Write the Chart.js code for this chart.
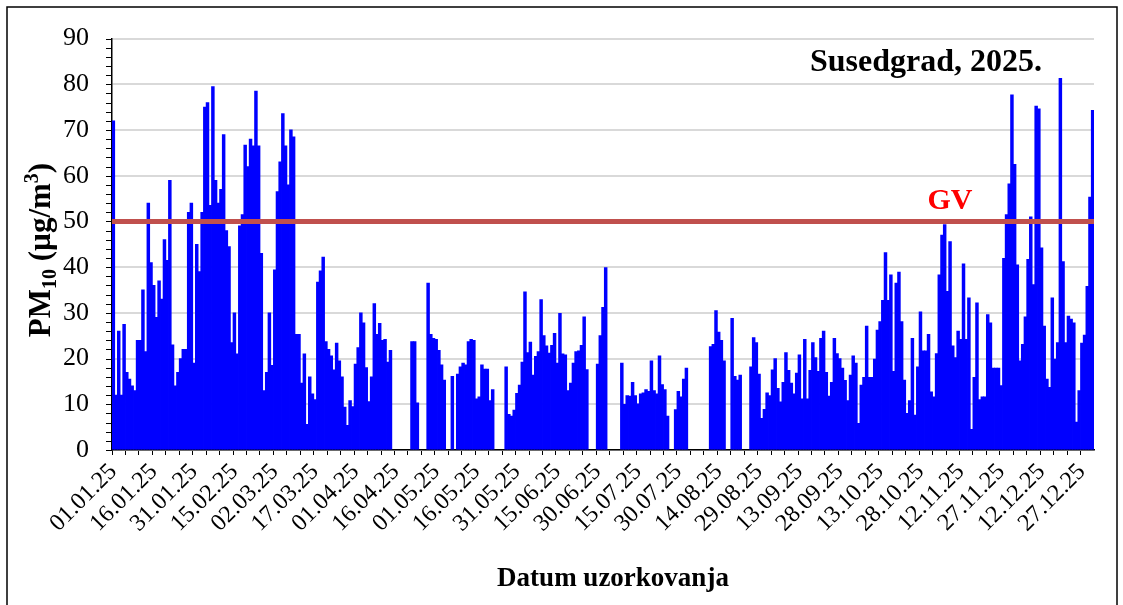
<!DOCTYPE html>
<html>
<head>
<meta charset="utf-8">
<title>PM10 Susedgrad 2025.</title>
<script src="https://cdn.jsdelivr.net/npm/chart.js@4.4.1/dist/chart.umd.min.js"></script>
<style>
    html, body { margin: 0; padding: 0; background: #fff; }
    #wrap { position: relative; width: 1123px; height: 605px; }
</style>
</head>
<body>
<div id="wrap"><canvas id="pm10Chart" width="1123" height="605"></canvas></div>
<script>
// Dnevne vrijednosti PM10 (µg/m3) po mjesecima, null = nema uzorka
const sijecanj = [72, 12, 26, 12, 27.5, 17, 15.5, 14, 13, 24, 24, 35, 21.5, 54, 41, 36, 29, 37, 33, 46,
    41.5, 59, 23, 14, 17, 20, 22, 22, 52, 54, 19];
const veljaca = [45, 39, 52, 75, 76, 53.5, 79.5, 59, 54, 57, 69, 48, 44.5, 23.5, 30, 21, 49, 51.5, 66.7, 62,
    68, 66.5, 78.5, 66.5, 43, 13, 17, 30];
const ozujak = [18.5, 39.4, 56.5, 63, 73.6, 66.5, 58, 70, 68.5, 25.3, 25.3, 14.6, 21, 5.6, 16, 12.3, 11, 36.7, 39.2, 42.2,
    23.7, 22, 20.6, 17.5, 23.4, 19.5, 16, 9.4, 5.4, 10.8, 9.5];
const travanj = [18.8, 22.4, 30, 27.8, 18, 10.6, 16, 32, 25.3, 27.7, 24, 24.2, 19.2, 21.8, null, null, null, null, null, null,
    null, 23.7, 23.7, 10.3, null, null, null, 36.5, 25.3, 24.4];
const svibanj = [24.2, 21.8, 18.6, 15.3, null, null, 16.1, null, 16.6, 18.2, 19, 18.6, 23.7, 24.2, 24, 11.2, 11.6, 18.6, 17.7, 17.7,
    10.8, 13.2, null, null, null, null, 18.2, 7.8, 7.4, 8.7, 12.4];
const lipanj = [14.2, 19.2, 34.6, 21.3, 23.6, 16.4, 20.5, 21.5, 32.9, 25, 22.8, 21.2, 22.9, 25.5, 19, 29.9, 21, 20.8, 13, 14.6,
    19, 21.5, 21.7, 22.9, 29.1, 17.6, null, null, null, 18.8];
const srpanj = [25, 31.2, 39.9, null, null, null, null, null, 19, 10, 11.9, 11.8, 14.8, 11.9, 10.1, 12.3, 12.5, 13.2, 12.8, 19.5,
    13, 12.3, 20.6, 14.3, 13.2, 7.4, null, null, 8.8, 12.8, 11.6];
const kolovoz = [15.5, 17.9, null, null, null, null, null, null, null, null, 22.6, 23.1, 30.5, 25.8, 24, 19.5, null, null, 28.8, 16.1,
    15.3, 16.4, null, null, null, 18.2, 24.6, 23.5, 16.6, 6.9, 8.9];
const rujan = [12.5, 11.9, 17.5, 20, 13.5, 10.5, 14.8, 21.3, 17.4, 14.6, 12.3, 16.8, 20.8, 11.2, 24.2, 11.2, 17.4, 23.5, 20.2, 17.2,
    24.4, 26, 17, 11.8, 14.8, 24.4, 21.1, 20, 17.9, 15.2];
const listopad = [10.8, 16.4, 20.6, 19, 5.8, 14.2, 15.9, 27.1, 15.9, 15.9, 19.9, 26.2, 28.1, 32.7, 43.2, 32.7, 38.3, 17.2, 36.5, 38.9,
    28.1, 15.3, 8, 10.8, 24.4, 7.6, 18.2, 30.2, 21.7, 21.7, 25.3];
const studeni = [12.7, 11.6, 21.1, 38.3, 47, 49.3, 34.7, 45.6, 22.8, 20.2, 26, 24.2, 40.7, 24.2, 33.3, 4.5, 15.9, 32.2, 11, 11.6,
    11.6, 29.6, 27.8, 17.9, 17.9, 17.9, 14.1, 41.9, 51.5, 58.2];
const prosinac = [77.7, 62.5, 40.5, 19.5, 23.1, 29.1, 41.7, 51, 36.2, 75.2, 74.6, 44.2, 27.1, 15.5, 13.7, 33.3, 19.9, 23.5, 81.3, 41.2,
    23.5, 29.3, 28.6, 27.8, 6.1, 13, 23.4, 25.1, 35.8, 55.3, 74.3];

// Oznake na osi x (svakih 15 dana)
const xOznake = ['01.01.25', '16.01.25', '31.01.25', '15.02.25', '02.03.25', '17.03.25', '01.04.25', '16.04.25',
    '01.05.25', '16.05.25', '31.05.25', '15.06.25', '30.06.25', '15.07.25', '30.07.25', '14.08.25', '29.08.25',
    '13.09.25', '28.09.25', '13.10.25', '28.10.25', '12.11.25', '27.11.25', '12.12.25', '27.12.25'];
const yOznake = [0, 10, 20, 30, 40, 50, 60, 70, 80, 90];
const granicnaVrijednost = 50;

const pm10 = [].concat(sijecanj, veljaca, ozujak, travanj, svibanj, lipanj,
    srpanj, kolovoz, rujan, listopad, studeni, prosinac);

// Datumi uzorkovanja (kategorije)
const datumi = [];
for (let d = new Date(2025, 0, 1); d.getFullYear() === 2025; d.setDate(d.getDate() + 1)) {
    const dd = String(d.getDate()).padStart(2, '0');
    const mm = String(d.getMonth() + 1).padStart(2, '0');
    datumi.push(dd + '.' + mm + '.25');
}

const serif = "'Liberation Serif', 'Times New Roman', 'DejaVu Serif', serif";

// Okvir, GV linija, naslovi i sitne crtice na osi y
const dodaci = {
    id: 'dodaci',
    afterDatasetsDraw(chart) {
        const { ctx, chartArea, scales } = chart;
        const yGV = scales.y.getPixelForValue(granicnaVrijednost);
        ctx.save();
        ctx.strokeStyle = '#c0504d';
        ctx.lineWidth = 5;
        ctx.beginPath();
        ctx.moveTo(chartArea.left, yGV);
        ctx.lineTo(chartArea.right, yGV);
        ctx.stroke();
        ctx.restore();
    },
    afterDraw(chart) {
        const { ctx, chartArea, scales } = chart;
        ctx.save();

        // okvir slike
        ctx.strokeStyle = '#000';
        ctx.lineWidth = 1.5;
        ctx.strokeRect(7, 7, 1110, 640);

        // crtice na osi y svake 2 jedinice
        ctx.lineWidth = 1;
        ctx.beginPath();
        for (let v = 0; v <= 90; v += 2) {
            const y = Math.round(scales.y.getPixelForValue(v)) + 0.5;
            ctx.moveTo(chartArea.left - 6, y);
            ctx.lineTo(chartArea.left, y);
        }
        ctx.stroke();

        // GV
        ctx.fillStyle = '#ff0000';
        ctx.font = 'bold 30px ' + serif;
        ctx.textAlign = 'center';
        ctx.textBaseline = 'alphabetic';
        ctx.fillText('GV', 950, scales.y.getPixelForValue(granicnaVrijednost) - 12);

        // naslov
        ctx.fillStyle = '#000';
        ctx.font = 'bold 32px ' + serif;
        ctx.fillText('Susedgrad, 2025.', 926, 71);

        // naslov osi x
        ctx.font = 'bold 27px ' + serif;
        ctx.fillText('Datum uzorkovanja', 613, 586);

        // naslov osi y: PM10 (µg/m3) s indeksima
        const dijelovi = [
            { t: 'PM', f: 'bold 31px ' + serif, dy: 0 },
            { t: '10', f: 'bold 20px ' + serif, dy: 6 },
            { t: ' (µg/m', f: 'bold 31px ' + serif, dy: 0 },
            { t: '3', f: 'bold 20px ' + serif, dy: -12 },
            { t: ')', f: 'bold 31px ' + serif, dy: 0 }
        ];
        let ukupno = 0;
        dijelovi.forEach(p => { ctx.font = p.f; p.w = ctx.measureText(p.t).width; ukupno += p.w; });
        ctx.translate(50, 250);
        ctx.rotate(-Math.PI / 2);
        ctx.textAlign = 'left';
        let x = -ukupno / 2;
        dijelovi.forEach(p => {
            ctx.font = p.f;
            ctx.fillText(p.t, x, p.dy);
            x += p.w;
        });
        ctx.restore();
    }
};

const ctx = document.getElementById('pm10Chart');
new Chart(ctx, {
    type: 'bar',
    data: {
        labels: datumi,
        datasets: [{
            label: 'PM10',
            data: pm10,
            backgroundColor: '#0000ff',
            borderWidth: 0,
            barPercentage: 1,
            categoryPercentage: 1,
            inflateAmount: 0.4
        }]
    },
    options: {
        responsive: false,
        animation: false,
        layout: {
            padding: { top: 35, right: 29, left: 0, bottom: 0 }
        },
        plugins: {
            legend: { display: false },
            tooltip: { enabled: false }
        },
        scales: {
            x: {
                grid: {
                    offset: true,
                    drawOnChartArea: false,
                    drawTicks: true,
                    tickLength: 5,
                    lineWidth: 1,
                    color: function(c) {
                        return c.index % 5 === 0 ? '#000' : 'rgba(0,0,0,0)';
                    }
                },
                border: { color: '#000', width: 1.5 },
                ticks: {
                    autoSkip: false,
                    maxRotation: 45,
                    minRotation: 45,
                    padding: 3,
                    color: '#000',
                    font: { family: serif, size: 24 },
                    callback: function(value, index) {
                        return index % 15 === 0 ? xOznake[index / 15] : '';
                    }
                },
                afterFit: function(scale) {
                    scale.height = 155;
                }
            },
            y: {
                min: yOznake[0],
                max: yOznake[yOznake.length - 1],
                ticks: {
                    stepSize: 10,
                    padding: 23,
                    color: '#000',
                    font: { family: serif, size: 26 }
                },
                grid: {
                    color: '#d9d9d9',
                    lineWidth: 2,
                    drawTicks: false
                },
                border: { color: '#000', width: 1.5 },
                afterFit: function(scale) {
                    scale.width = 112;
                }
            }
        }
    },
    plugins: [dodaci]
});
</script>
</body>
</html>
